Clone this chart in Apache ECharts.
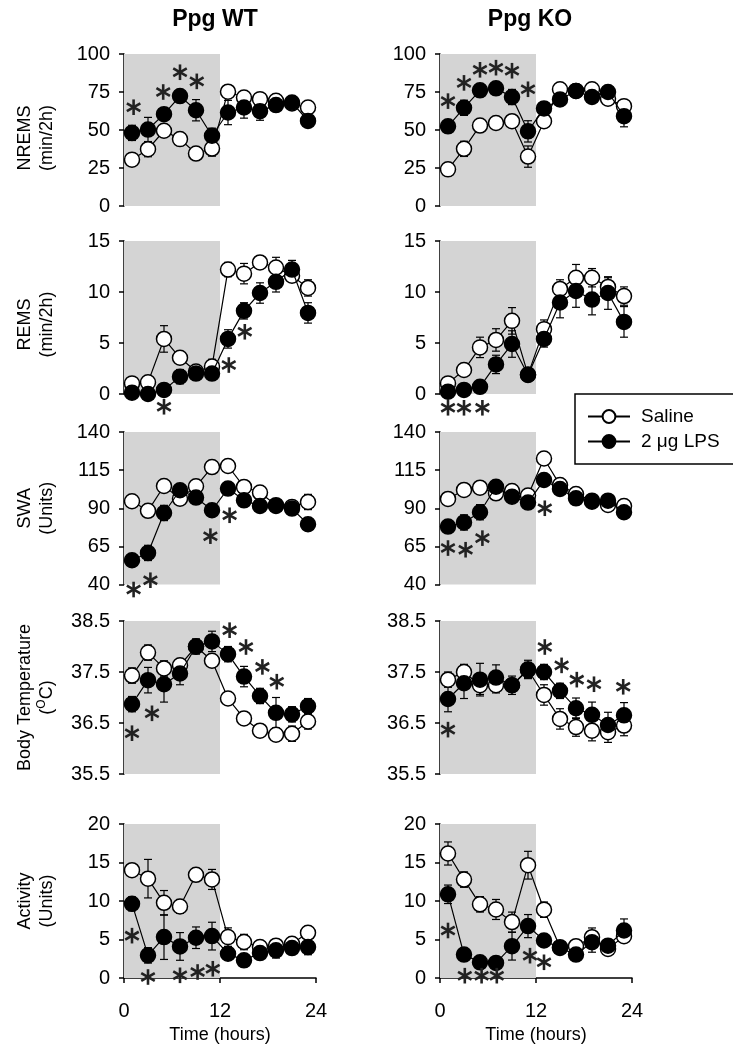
<!DOCTYPE html>
<html>
<head>
<meta charset="utf-8">
<script src="https://cdn.jsdelivr.net/npm/echarts@6/dist/echarts.min.js"></script>
<style>
html,body{margin:0;padding:0;background:#fff;}
#chart{width:733px;height:1050px;}
</style>
</head>
<body>
<div id="chart"></div>
<script>
// ---------- data ----------
const hours = [1,3,5,7,9,11,13,15,17,19,21,23];
const xTicks = [0,12,24];
const nremsTicks = [0,25,50,75,100];
const remsTicks = [0,5,10,15];
const swaTicks = [40,65,90,115,140];
const tempTicks = [35.5,36.5,37.5,38.5];
const actTicks = [0,5,10,15,20];

// NREMS
const nremsWtSal = [30.5,37.4,49.5,44,34.5,37.8,75.2,71.4,70.3,69.2,67.5,64.8];
const nremsWtSalErr = [2,5,2,2,2,5,2,2,2,2,2,2];
const nremsWtLps = [48.1,50.3,60.4,72.3,63,46.2,61.5,64.8,62.4,66.4,68.1,56];
const nremsWtLpsErr = [5,8,3,4,7,5,8,7,6,3,2,2];
const nremsWtStars = [[1.2,65],[4.9,75],[7,88],[9.1,82]];
const nremsKoSal = [24.1,37.6,52.9,54.6,55.8,32.5,55.8,76.8,75.7,76.8,70.6,65.7];
const nremsKoSalErr = [2,5,3,4,2,7,4,2,2,2,2,2];
const nremsKoLps = [52.4,64.6,76.1,77.4,71.7,49.1,64.2,70.1,75.7,71.7,75,59.1];
const nremsKoLpsErr = [3,5,3,2,5,7,4,4,2,4,2,7];
const nremsKoStars = [[1,69],[3,81],[5,89.6],[7,91],[9,89],[11,76.8]];

// REMS
const remsWtSal = [1.04,1.14,5.4,3.55,2.2,2.7,12.2,11.8,12.9,12.4,11.6,10.4];
const remsWtSalErr = [0.2,0.2,1.3,0.3,0.4,0.7,0.7,1.0,0.6,1.0,0.5,0.8];
const remsWtLps = [0.13,0,0.4,1.7,2.0,2.0,5.4,8.15,9.9,11.0,12.2,7.95];
const remsWtLpsErr = [0.2,0.2,0.3,0.7,0.6,0.4,0.9,0.8,1.0,1.0,0.9,1.0];
const remsWtStars = [[5,-1.25],[13.1,2.84],[15.1,6.1]];
const remsKoSal = [1.04,2.35,4.57,5.3,7.17,1.9,6.36,10.3,11.4,11.4,10.5,9.6];
const remsKoSalErr = [0.2,0.3,1.0,1.1,1.3,0.3,0.9,0.9,1.3,0.9,0.9,0.9];
const remsKoLps = [0.23,0.4,0.7,2.9,4.9,1.86,5.4,8.97,10.1,9.26,9.9,7.07];
const remsKoLpsErr = [0.2,0.2,0.2,0.9,1.3,0.3,0.8,1.5,1.6,1.5,1.6,1.5];
const remsKoStars = [[1,-1.35],[3,-1.35],[5.3,-1.35]];

// SWA
const swaWtSal = [94.6,88.3,104.6,96.3,104.4,117,117.7,104,100.3,92,90.9,94.1];
const swaWtSalErr = [1.5,3,1.5,1.5,1.5,4,1.5,1.5,1.5,1.5,1.5,5];
const swaWtLps = [55.9,60.7,86.9,101.8,97,88.7,102.9,95.2,91.5,91.5,89.8,79.5];
const swaWtLpsErr = [3,5,5,2,2,2,2,2,2,2,2,1.5];
const swaWtStars = [[1.2,36.7],[3.3,42.8],[10.8,71.7],[13.2,85.4]];
const swaKoSal = [96.1,102,103.5,99.8,101.3,98.3,122.6,105.2,99.3,95,92.2,91.5];
const swaKoSalErr = [1.5,1.5,1.5,2,1.5,1.5,1.5,1.5,1.5,1.5,1.5,1.5];
const swaKoLps = [78,80.7,87.4,104.1,97.6,93.7,108.5,102.6,96.5,94.3,95,87.4];
const swaKoLpsErr = [2,5,5,4,2,2,2,2,2,2,2,2];
const swaKoStars = [[1,63.9],[3.2,62.8],[5.3,70.4],[13.1,90]];

// Body temperature
const tempWtSal = [37.43,37.88,37.57,37.63,38.0,37.72,36.98,36.59,36.35,36.27,36.29,36.53];
const tempWtSalErr = [0.15,0.15,0.15,0.12,0.12,0.1,0.05,0.12,0.12,0.12,0.15,0.15];
const tempWtLps = [36.87,37.34,37.26,37.47,38.0,38.1,37.85,37.41,37.03,36.7,36.67,36.83];
const tempWtLpsErr = [0.15,0.25,0.35,0.22,0.15,0.2,0.15,0.2,0.15,0.3,0.15,0.15];
const tempWtStars = [[1,36.3],[3.5,36.69],[13.2,38.32],[15.25,37.99],[17.3,37.6],[19.1,37.31]];
const tempKoSal = [37.35,37.5,37.24,37.24,37.24,37.54,37.05,36.58,36.42,36.35,36.32,36.45];
const tempKoSalErr = [0.15,0.15,0.18,0.15,0.12,0.15,0.2,0.2,0.18,0.2,0.2,0.2];
const tempKoLps = [36.97,37.28,37.35,37.39,37.24,37.55,37.5,37.13,36.79,36.66,36.46,36.65];
const tempKoLpsErr = [0.25,0.3,0.32,0.25,0.18,0.18,0.15,0.15,0.2,0.25,0.25,0.25];
const tempKoStars = [[1,36.37],[13.1,37.99],[15.2,37.63],[17.1,37.35],[19.25,37.26],[22.9,37.21]];

// Activity
const actWtSal = [14.0,12.9,9.76,9.29,13.4,12.8,5.31,4.67,4.02,4.2,4.45,5.87];
const actWtSalErr = [0.5,2.5,1.6,0.9,0.8,1.3,1.2,1.0,0.5,0.5,0.8,0.5];
const actWtLps = [9.63,2.94,5.31,4.1,5.23,5.44,3.15,2.29,3.24,3.59,3.89,4.02];
const actWtLpsErr = [0.9,1.0,2.9,1.8,1.4,1.8,0.7,0.4,0.8,1.0,0.8,1.0];
const actWtStars = [[1,5.5],[3,0.13],[7,0.35],[9.2,0.78],[11.1,1.2]];
const actKoSal = [16.17,12.78,9.57,8.9,7.26,14.65,8.87,4.0,4.13,5.3,3.78,5.43];
const actKoSalErr = [1.5,1.0,1.0,1.3,1.3,1.8,1.0,0.5,0.5,1.2,0.5,0.5];
const actKoLps = [10.87,3.04,2.04,1.96,4.13,6.74,4.87,3.9,3.04,4.65,4.2,6.17];
const actKoLpsErr = [1.2,0.4,0.4,0.4,1.8,1.5,0.5,0.4,0.4,1.3,0.5,1.5];
const actKoStars = [[1,6.17],[3.1,0.3],[5.2,0.3],[7.1,0.3],[11.25,2.9],[13,2.04]];

const titles = ['Ppg WT','Ppg KO'];
const seriesNames = ['Saline','2 μg LPS'];
const darkPhase = [0,12];

// ---------- layout ----------
const FONT = '"Liberation Sans", Arial, Helvetica, sans-serif';
const rowDefs = [
  {name:'NREMS\n(min/2h)', min:0, max:100, ticks:nremsTicks, shift:16},
  {name:'REMS\n(min/2h)', min:0, max:15, ticks:remsTicks, shift:14},
  {name:'SWA\n(Units)', min:40, max:140, ticks:swaTicks, shift:0},
  {name:'Body Temperature\n({sup|O}C)', min:35.5, max:38.5, ticks:tempTicks, shift:0},
  {name:'Activity\n(Units)', min:0, max:20, ticks:actTicks, shift:0}
];
const rowTop = [54, 241, 432, 621, 824];
const rowH = [152, 153, 152.5, 153, 154];
const colLeft = [124, 440];
const colW = 192;

const panels = [
  [nremsWtSal,nremsWtSalErr,nremsWtLps,nremsWtLpsErr,nremsWtStars],
  [nremsKoSal,nremsKoSalErr,nremsKoLps,nremsKoLpsErr,nremsKoStars],
  [remsWtSal,remsWtSalErr,remsWtLps,remsWtLpsErr,remsWtStars],
  [remsKoSal,remsKoSalErr,remsKoLps,remsKoLpsErr,remsKoStars],
  [swaWtSal,swaWtSalErr,swaWtLps,swaWtLpsErr,swaWtStars],
  [swaKoSal,swaKoSalErr,swaKoLps,swaKoLpsErr,swaKoStars],
  [tempWtSal,tempWtSalErr,tempWtLps,tempWtLpsErr,tempWtStars],
  [tempKoSal,tempKoSalErr,tempKoLps,tempKoLpsErr,tempKoStars],
  [actWtSal,actWtSalErr,actWtLps,actWtLpsErr,actWtStars],
  [actKoSal,actKoSalErr,actKoLps,actKoLpsErr,actKoStars]
];

function errRender(params, api) {
  const x = api.value(0), y = api.value(1), e = api.value(2);
  const p0 = api.coord([x, y - e]), p1 = api.coord([x, y + e]);
  const cw = 4;
  const style = {stroke:'#000', lineWidth:1.2};
  return {type:'group', children:[
    {type:'line', shape:{x1:p0[0],y1:p0[1],x2:p1[0],y2:p1[1]}, style},
    {type:'line', shape:{x1:p0[0]-cw,y1:p0[1],x2:p0[0]+cw,y2:p0[1]}, style},
    {type:'line', shape:{x1:p1[0]-cw,y1:p1[1],x2:p1[0]+cw,y2:p1[1]}, style}
  ]};
}
function starRender(params, api) {
  const c = api.coord([api.value(0), api.value(1)]);
  const r = 7.8;
  return {type:'group', children:[0,60,120].map(a => {
    const t = a*Math.PI/180;
    return {type:'line', shape:{x1:c[0]-r*Math.sin(t), y1:c[1]-r*Math.cos(t), x2:c[0]+r*Math.sin(t), y2:c[1]+r*Math.cos(t)},
      style:{stroke:'#222', lineWidth:2.6}};
  })};
}

const grids = [], xAxes = [], yAxes = [], series = [];
panels.forEach((p, i) => {
  const row = Math.floor(i/2), col = i%2;
  const rd = rowDefs[row];
  grids.push({left:colLeft[col], top:rowTop[row], width:colW, height:rowH[row], containLabel:false});
  const last = row === 4;
  xAxes.push({
    gridIndex:i, type:'value', min:0, max:24, interval:12, show:last,
    position:'bottom', offset:5,
    axisLine:{show:true, lineStyle:{color:'#000', width:1.5}},
    axisTick:{show:true, length:5, lineStyle:{color:'#000', width:1.5}, customValues:xTicks},
    axisLabel:{color:'#000', fontSize:20, fontFamily:FONT, margin:18, customValues:xTicks},
    splitLine:{show:false},
    name: last ? 'Time (hours)' : '', nameLocation:'middle', nameGap:43,
    nameTextStyle:{color:'#000', fontSize:18, fontFamily:FONT}
  });
  yAxes.push({
    gridIndex:i, type:'value', min:rd.min, max:rd.max, offset:8,
    axisLine:{show:true, lineStyle:{color:'#000', width:1.5}},
    axisTick:{show:true, length:5, lineStyle:{color:'#000', width:1.5}, customValues:rd.ticks},
    axisLabel:{color:'#000', fontSize:20, fontFamily:FONT, margin:6, customValues:rd.ticks},
    splitLine:{show:false},
    name: col === 0 ? rd.name : '', nameLocation:'middle', nameRotate:90, nameGap:58,
    nameTextStyle:{color:'#000', fontSize:18, fontFamily:FONT, lineHeight:22, align:'center',
      padding:[0, rd.shift, 0, 0],
      rich:{sup:{fontSize:12, lineHeight:12, verticalAlign:'top', fontFamily:FONT, color:'#000'}}}
  });
  const [sal, salErr, lps, lpsErr, stars] = p;
  series.push({
    type:'custom', xAxisIndex:i, yAxisIndex:i, z:2, renderItem:errRender, silent:true,
    data: hours.map((h,k)=>[h, sal[k], salErr[k]])
  });
  series.push({
    type:'custom', xAxisIndex:i, yAxisIndex:i, z:2, renderItem:errRender, silent:true,
    data: hours.map((h,k)=>[h, lps[k], lpsErr[k]])
  });
  series.push({
    name:seriesNames[0], type:'line', xAxisIndex:i, yAxisIndex:i, z:3,
    data: hours.map((h,k)=>[h, sal[k]]),
    symbol:'circle', symbolSize:15,
    itemStyle:{color:'#fff', borderColor:'#000', borderWidth:1.5},
    lineStyle:{color:'#000', width:1.2},
    markArea:{silent:true, z:1, itemStyle:{color:'#d4d4d4'},
      data:[[{coord:[darkPhase[0], rd.max]},{coord:[darkPhase[1], rd.min]}]]}
  });
  series.push({
    name:seriesNames[1], type:'line', xAxisIndex:i, yAxisIndex:i, z:4,
    data: hours.map((h,k)=>[h, lps[k]]),
    symbol:'circle', symbolSize:15,
    itemStyle:{color:'#000', borderColor:'#000', borderWidth:1.5},
    lineStyle:{color:'#000', width:1.2}
  });
  series.push({
    type:'custom', xAxisIndex:i, yAxisIndex:i, z:5, renderItem:starRender, silent:true, clip:false,
    data: stars
  });
});

const option = {
  animation:false,
  backgroundColor:'#fff',
  title: titles.map((t, c) => ({
    text:t, left: c === 0 ? 215 : 530, top:8, textAlign:'center', padding:0,
    textStyle:{fontSize:23, fontWeight:'bold', color:'#000', fontFamily:FONT}
  })),
  legend:{
    data:seriesNames, orient:'vertical', left:575, top:394,
    padding:[13,16,13,12], itemGap:6, itemWidth:42, itemHeight:16,
    borderColor:'#000', borderWidth:1.5, backgroundColor:'#fff',
    textStyle:{fontSize:19, color:'#000', fontFamily:FONT, padding:[0,0,0,6]},
    selectedMode:false
  },
  grid:grids, xAxis:xAxes, yAxis:yAxes, series
};
const chart = echarts.init(document.getElementById('chart'), null, {renderer:'canvas'});
chart.setOption(option);
</script>
</body>
</html>
